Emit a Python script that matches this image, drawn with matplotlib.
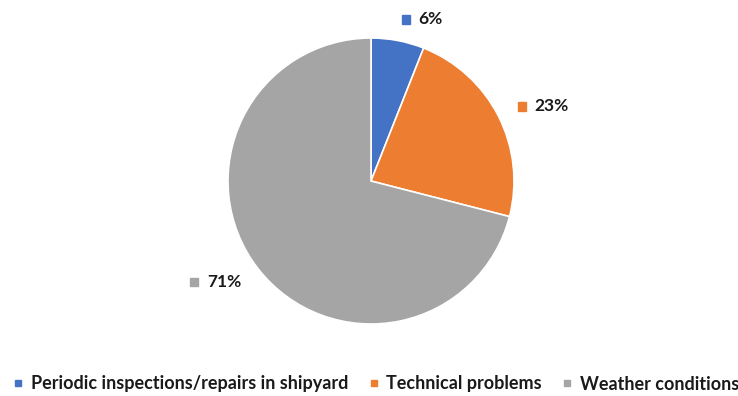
import numpy as np
import matplotlib
matplotlib.use('Agg')
import matplotlib.pyplot as plt
from matplotlib.lines import Line2D
from matplotlib.patches import Rectangle
from matplotlib.offsetbox import AnnotationBbox, DrawingArea, HPacker, TextArea

categories = ['Periodic inspections/repairs in shipyard', 'Technical problems', 'Weather conditions']
shares = [6, 23, 71]
colors = ['#4472C4', '#ED7D31', '#A5A5A5']

plt.rcParams['font.family'] = ['Lato', 'DejaVu Sans']
txt_col = '#1a1a1a'

W, H = 738, 396
fig = plt.figure(figsize=(W / 100, H / 100), dpi=100)

# pie centre and radius in pixels
cx, cy, rad = 371, 181, 143
half = 200
ax = fig.add_axes([(cx - half) / W, (H - cy - half) / H, 2 * half / W, 2 * half / H])
wedges, _ = ax.pie(shares, colors=colors, startangle=90, counterclock=False,
                   radius=1.0, wedgeprops=dict(edgecolor='white', linewidth=1.2))
lim = half / rad
ax.set_xlim(-lim, lim)
ax.set_ylim(-lim, lim)
ax.axis('off')

# data labels outside the wedges: small colour square + value
for w, val, col in zip(wedges, shares, colors):
    th = np.deg2rad((w.theta1 + w.theta2) / 2)
    r = 1.15
    x, y = r * np.cos(th), r * np.sin(th)
    sq = DrawingArea(6, 6, 0, 0)
    sq.add_artist(Rectangle((0, 0), 6, 6, color=col))
    ta = TextArea(f'{val}%', textprops=dict(fontsize=12.5, fontweight='bold', color=txt_col))
    box = HPacker(children=[sq, ta], align='center', pad=0, sep=6)
    ab = AnnotationBbox(box, (x, y), xycoords='data', frameon=False, pad=0,
                        box_alignment=(0 if x > 0 else 1, 0.5))
    ax.add_artist(ab)

handles = [Line2D([], [], marker='s', ms=5, color=c, ls='none') for c in colors]
fig.legend(handles, categories, loc='center', bbox_to_anchor=(375 / W, 1 - 384 / H), ncol=3,
           frameon=False, prop=dict(size=13, weight='bold'), handletextpad=0.3,
           columnspacing=1.0, handlelength=0.8, labelcolor=txt_col)

fig.savefig('out.png', dpi=100)
